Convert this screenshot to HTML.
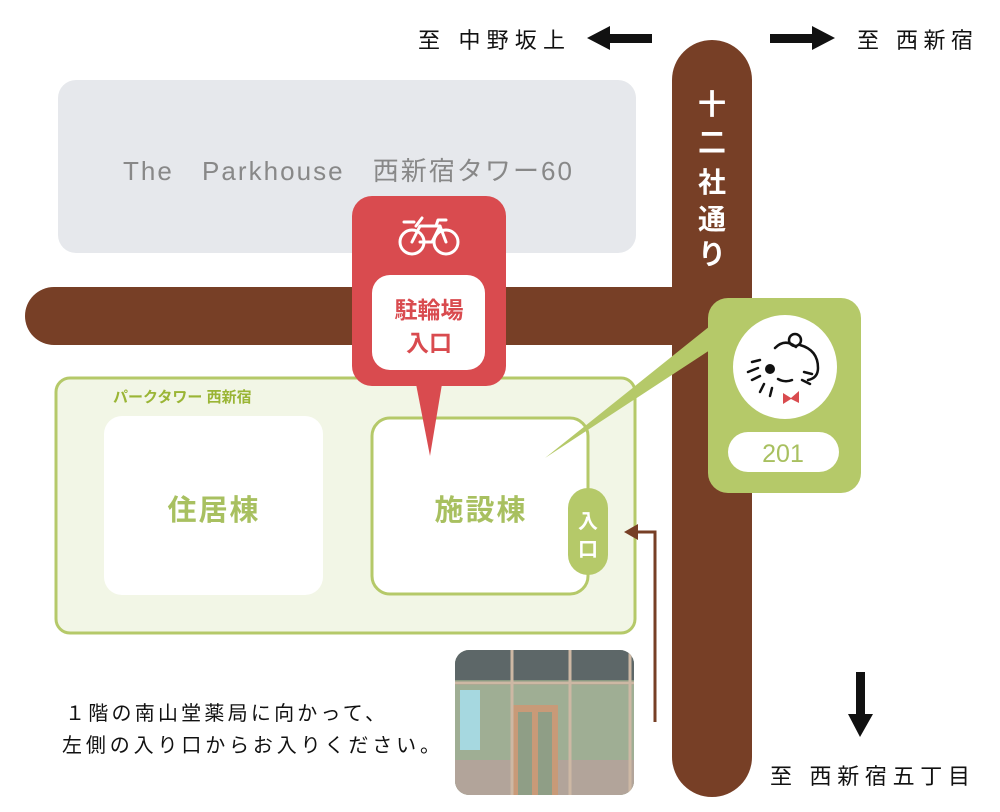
<!DOCTYPE html>
<html><head><meta charset="utf-8"><style>
html,body{margin:0;padding:0;background:#fff;}
svg{display:block;}
text{font-family:"Liberation Sans","Noto Sans CJK JP",sans-serif;}
</style></head><body>
<svg width="1000" height="812" viewBox="0 0 1000 812" xmlns="http://www.w3.org/2000/svg">
<rect x="672" y="40" width="80" height="757" rx="40" fill="#773f26"/>
<path d="M54 287 H700 V345 H54 A29 29 0 0 1 54 287Z" fill="#773f26"/>
<rect x="58" y="80" width="578" height="173" rx="18" fill="#e6e8ec"/>
<text x="123" y="180" font-size="26" fill="#888" textLength="449" lengthAdjust="spacing">The　Parkhouse　西新宿タワー60</text>
<g fill="#fff" font-size="28" font-weight="bold" text-anchor="middle">
<text x="712" y="114">十</text><text x="712" y="152">二</text><text x="712" y="192">社</text><text x="712" y="229">通</text><text x="712" y="264">り</text>
</g>
<rect x="56" y="378" width="579" height="255" rx="14" fill="#f2f6e6" stroke="#b5c969" stroke-width="3"/>
<text x="113" y="402" font-size="15" font-weight="bold" fill="#9ab535">パークタワー 西新宿</text>
<rect x="104" y="416" width="219" height="179" rx="18" fill="#fff"/>
<text x="214" y="520" font-size="29" font-weight="bold" fill="#a8c060" text-anchor="middle" letter-spacing="2">住居棟</text>
<rect x="372" y="418" width="216" height="176" rx="18" fill="#fff" stroke="#b5c969" stroke-width="3"/>
<text x="481" y="520" font-size="29" font-weight="bold" fill="#a8c060" text-anchor="middle" letter-spacing="2">施設棟</text>
<rect x="568" y="488" width="40" height="87" rx="20" fill="#b5c969"/>
<text x="588" y="528" font-size="20" font-weight="bold" fill="#fff" text-anchor="middle">入</text>
<text x="588" y="556" font-size="20" font-weight="bold" fill="#fff" text-anchor="middle">口</text>
<path d="M416 384 L442 384 L430 456Z" fill="#d94b4f"/>
<rect x="352" y="196" width="154" height="190" rx="20" fill="#d94b4f"/>
<rect x="372" y="275" width="113" height="95" rx="18" fill="#fff"/>
<text x="429" y="318" font-size="23" font-weight="bold" fill="#d94b4f" text-anchor="middle">駐輪場</text>
<text x="429" y="351" font-size="23" font-weight="bold" fill="#d94b4f" text-anchor="middle">入口</text>
<g fill="none" stroke="#fff" stroke-width="3" stroke-linecap="round" stroke-linejoin="round">
<circle cx="412" cy="242" r="12"/><circle cx="446" cy="242" r="12"/>
<path d="M412 242 L420 226 L440 226 L446 242 M420 242 L432 242 L440 226 M404 222 L414 222 M422 218 L416 226 M436 226 L438 220 L446 220"/>
</g>
<path d="M710 326 L710 350 L545 458Z" fill="#b5c969"/>
<rect x="708" y="298" width="153" height="195" rx="20" fill="#b5c969"/>
<circle cx="785" cy="367" r="52" fill="#fff"/>
<g fill="none" stroke="#111" stroke-width="2.5" stroke-linecap="round">
<circle cx="795" cy="340" r="6"/>
<path d="M775 348 Q785 338 796 347 M800 345 Q818 350 818 368 Q818 378 808 380 M760 360 L752 362 M758 368 L748 372 M760 376 L752 380 M764 384 L760 392 M772 388 L770 396 M804 372 L812 374 M802 380 L810 384 M778 379 Q785 383 792 380"/>
</g>
<circle cx="770" cy="369" r="5" fill="#111"/>
<path d="M783 393 L791 398 L799 391 L799 403 L791 399 L783 404Z" fill="#d94b4f"/>
<rect x="728" y="432" width="111" height="40" rx="20" fill="#fff"/>
<text x="783" y="462" font-size="25" fill="#a8c060" text-anchor="middle">201</text>
<path d="M655 722 V532 H634" fill="none" stroke="#773f26" stroke-width="3"/>
<path d="M624 532 L638 524 L638 540Z" fill="#773f26"/>
<defs><clipPath id="pc"><rect x="455" y="650" width="179" height="145" rx="14"/></clipPath></defs>
<g clip-path="url(#pc)">
<rect x="455" y="650" width="179" height="145" fill="#8a9a82"/>
<rect x="455" y="650" width="179" height="30" fill="#5d6768"/>
<rect x="455" y="685" width="179" height="110" fill="#9fae94"/>
<rect x="460" y="690" width="20" height="60" fill="#a6d8e0"/>
<rect x="455" y="760" width="179" height="35" fill="#b2a49a"/>
<rect x="513" y="705" width="45" height="90" fill="#c89a78"/>
<rect x="518" y="712" width="14" height="83" fill="#8f9e86"/>
<rect x="538" y="712" width="14" height="83" fill="#8f9e86"/>
<g stroke="#cdb8a4" stroke-width="3"><line x1="512" y1="650" x2="512" y2="795"/><line x1="570" y1="650" x2="570" y2="795"/><line x1="630" y1="650" x2="630" y2="795"/><line x1="455" y1="683" x2="634" y2="683"/></g>
</g>
<text x="65" y="720" font-size="20" fill="#111" textLength="320" lengthAdjust="spacing">１階の南山堂薬局に向かって、</text>
<text x="62" y="752" font-size="20" fill="#111" textLength="378" lengthAdjust="spacing">左側の入り口からお入りください。</text>
<text x="418" y="48" font-size="22" fill="#111" textLength="147" lengthAdjust="spacing">至 中野坂上</text>
<path d="M587 38 L610 26 L610 34 L652 34 L652 43 L610 43 L610 50Z" fill="#111"/>
<path d="M835 38 L812 26 L812 34 L770 34 L770 43 L812 43 L812 50Z" fill="#111"/>
<text x="857" y="48" font-size="22" fill="#111" textLength="116" lengthAdjust="spacing">至 西新宿</text>
<path d="M860 737 L848 714 L856 714 L856 672 L865 672 L865 714 L873 714Z" fill="#111"/>
<text x="770" y="784" font-size="22" fill="#111" textLength="200" lengthAdjust="spacing">至 西新宿五丁目</text>
</svg>
</body></html>
